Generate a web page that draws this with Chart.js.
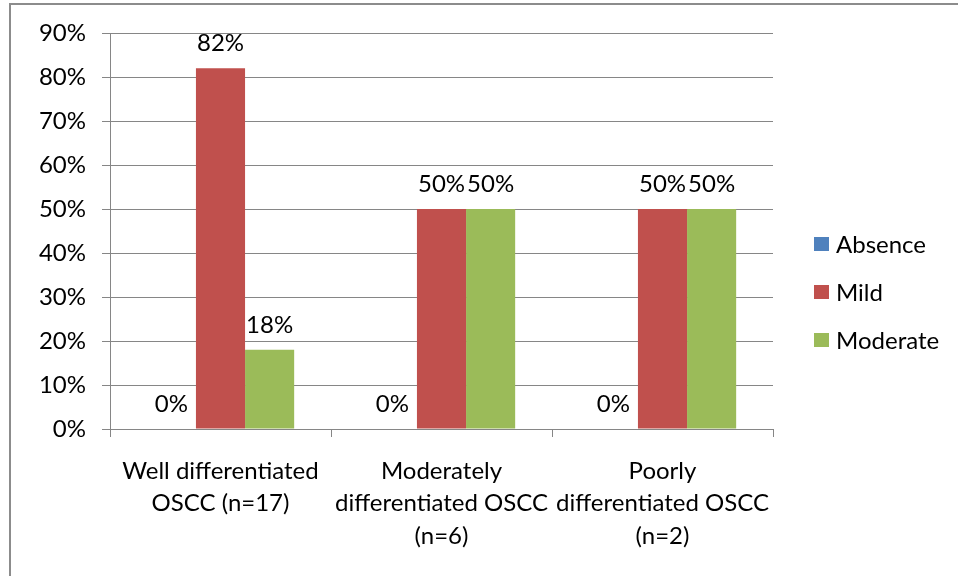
<!DOCTYPE html>
<html>
<head>
<meta charset="utf-8">
<script src="https://cdn.jsdelivr.net/npm/chart.js@4/dist/chart.umd.min.js"></script>
<style>
  html, body { margin: 0; padding: 0; background: #fff; overflow: hidden; }
  #frame { position: absolute; left: 9px; top: 3px; width: 1000px; height: 700px; border: 2px solid #8c8c8c; box-sizing: border-box; }
  #wrap { position: absolute; left: 0; top: 0; width: 958px; height: 576px; }
</style>
</head>
<body>
<div id="frame"></div>
<div id="wrap"><canvas id="c" width="958" height="576"></canvas></div>
<script>
const categories = [
  ["Well differentiated", "OSCC (n=17)"],
  ["Moderately", "differentiated OSCC", "(n=6)"],
  ["Poorly", "differentiated OSCC", "(n=2)"]
];
const seriesNames = ["Absence", "Mild", "Moderate"];
const absence = [0, 0, 0];
const mild = [82, 50, 50];
const moderate = [18, 50, 50];
const yTicks = [0, 10, 20, 30, 40, 50, 60, 70, 80, 90];

const colors = ["#4F81BD", "#C0504D", "#9BBB59"];
const FONT = "Lato, 'Open Sans', sans-serif";
const FS = 24;

const valueLabels = {
  id: 'valueLabels',
  afterDatasetsDraw(chart) {
    const ctx = chart.ctx;
    ctx.save();
    ctx.font = FS + "px " + FONT;
    ctx.fillStyle = "#000";
    ctx.textAlign = "center";
    ctx.textBaseline = "middle";
    chart.data.datasets.forEach((ds, i) => {
      const meta = chart.getDatasetMeta(i);
      meta.data.forEach((el, j) => {
        ctx.fillText(ds.data[j] + "%", el.x, el.y - 25);
      });
    });
    ctx.restore();
  }
};

// Legend drawn on the right, built from the datasets
const sideLegend = {
  id: 'sideLegend',
  afterDraw(chart) {
    const ctx = chart.ctx;
    ctx.save();
    ctx.font = FS + "px " + FONT;
    ctx.textBaseline = "middle";
    ctx.textAlign = "left";
    const x0 = chart.chartArea.right + 41;
    const step = 48;
    const n = chart.data.datasets.length;
    const cy = 292;
    chart.data.datasets.forEach((ds, i) => {
      const y = cy + (i - (n - 1) / 2) * step;
      ctx.fillStyle = ds.backgroundColor;
      ctx.fillRect(x0, y - 7, 15, 14);
      ctx.fillStyle = "#000";
      ctx.fillText(ds.label, x0 + 22, y + 1);
    });
    ctx.restore();
  }
};

new Chart(document.getElementById('c'), {
  type: 'bar',
  data: {
    labels: categories,
    datasets: [
      { label: seriesNames[0], data: absence, backgroundColor: colors[0] },
      { label: seriesNames[1], data: mild, backgroundColor: colors[1] },
      { label: seriesNames[2], data: moderate, backgroundColor: colors[2] }
    ]
  },
  options: {
    responsive: false,
    animation: false,
    devicePixelRatio: 1,
    layout: { padding: { left: 10, top: 33, right: 185, bottom: 0 } },
    datasets: { bar: { categoryPercentage: 3 / 4.5, barPercentage: 1 } },
    plugins: {
      legend: { display: false },
      tooltip: { enabled: false }
    },
    scales: {
      x: {
        grid: { display: true, drawOnChartArea: false, offset: true, color: "#868686", tickLength: 8, lineWidth: 1 },
        border: { color: "#868686", width: 1 },
        ticks: { font: { size: FS, family: FONT, lineHeight: 1.35 }, color: "#000", padding: 18, maxRotation: 0, autoSkip: false },
        afterFit(s) { s.height = 147; }
      },
      y: {
        min: 0, max: 90,
        afterBuildTicks(s) { s.ticks = yTicks.map(v => ({ value: v })); },
        grid: { color: "#868686", tickLength: 8, lineWidth: 1 },
        border: { color: "#868686", width: 1 },
        ticks: { font: { size: FS, family: FONT }, color: "#000", padding: 16, callback: v => v + "%" },
        afterFit(s) { s.width = 100; }
      }
    }
  },
  plugins: [valueLabels, sideLegend]
});
</script>
</body>
</html>
